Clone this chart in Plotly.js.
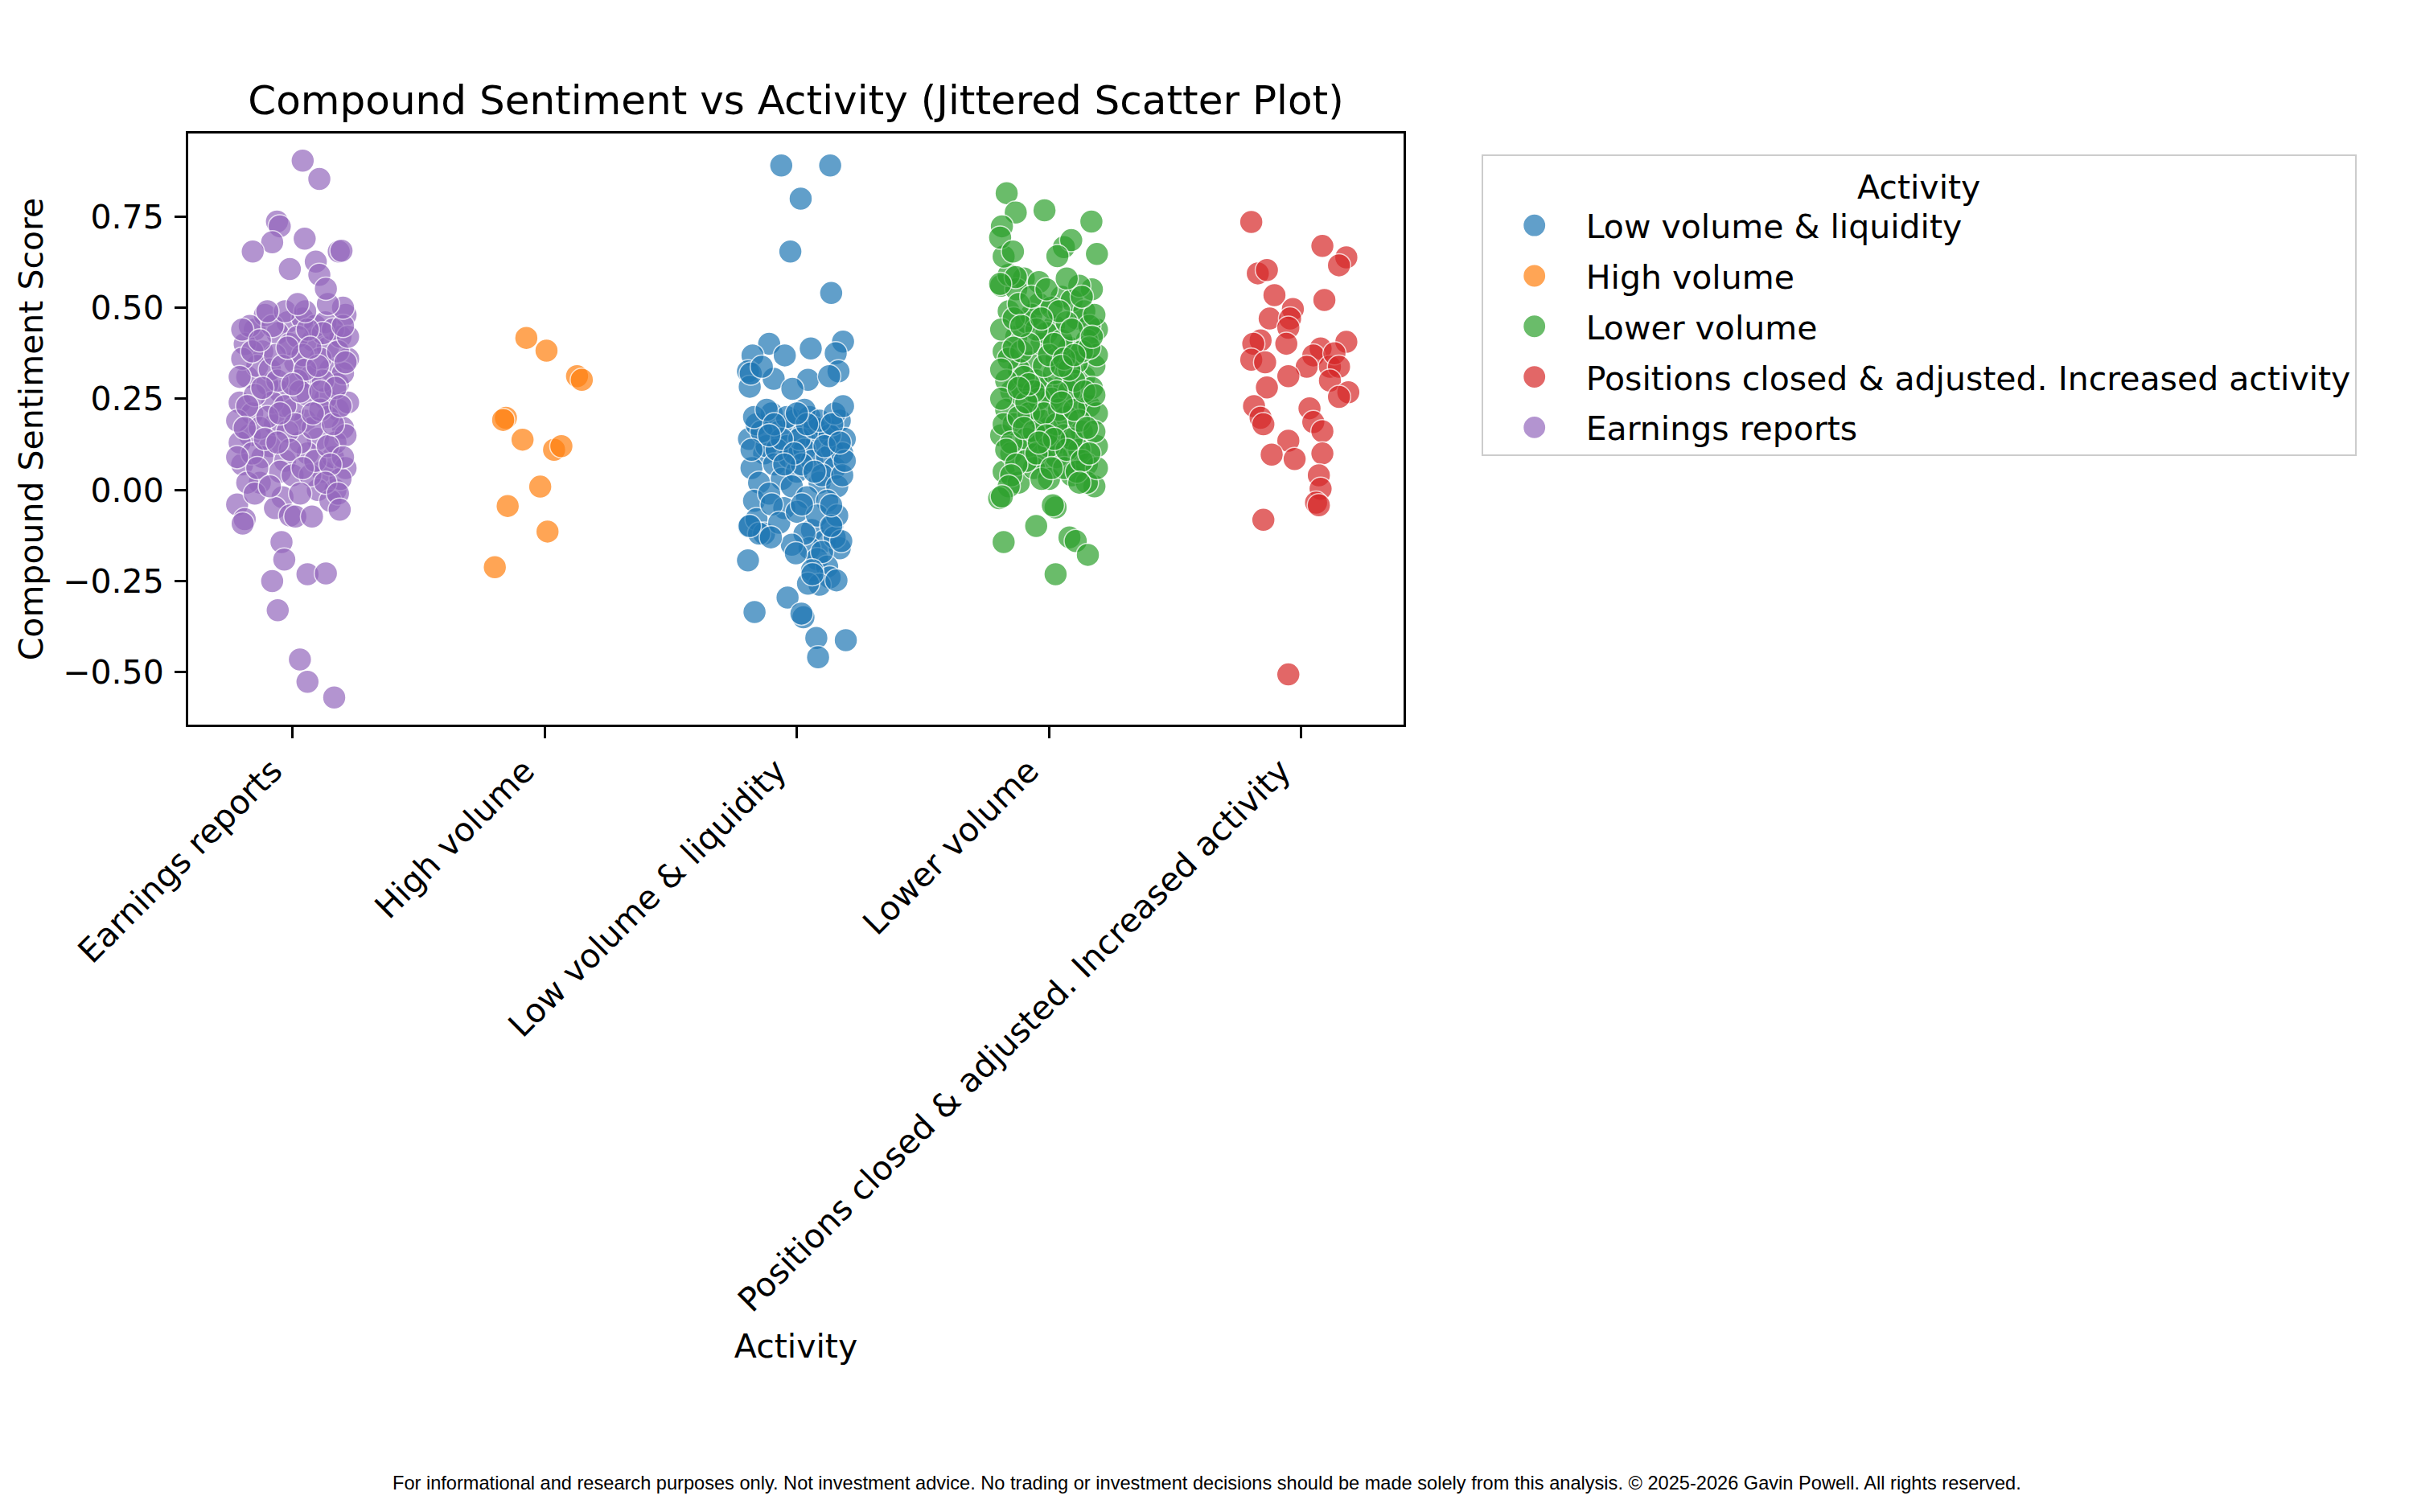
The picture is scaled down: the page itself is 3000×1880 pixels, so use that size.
<!DOCTYPE html>
<html>
<head>
<meta charset="utf-8">
<script src="https://cdn.plot.ly/plotly-3.0.1.min.js"></script>
<style>
	html, body { margin: 0; padding: 0; background: #fff; }
	#chart { width: 3000px; height: 1880px; }
</style>
</head>
<body>
<div id="chart"></div>
<script>
(function () {

	'use strict';

	// x-axis order (alphabetical, as on the picture)
	const categories = [
		'Earnings reports',
		'High volume',
		'Low volume & liquidity',
		'Lower volume',
		'Positions closed & adjusted. Increased activity'
	];

	// legend order
	const legendOrder = [
		'Low volume & liquidity',
		'High volume',
		'Lower volume',
		'Positions closed & adjusted. Increased activity',
		'Earnings reports'
	];

	const colors = {
		'Low volume & liquidity': '#1f77b4',
		'High volume': '#ff7f0e',
		'Lower volume': '#2ca02c',
		'Positions closed & adjusted. Increased activity': '#d62728',
		'Earnings reports': '#9467bd'
	};

	/*
	Sentiment scores and horizontal jitter
	*/
	const earningsScore = [
		0.24, 0.31, 0.44, 0.38, 0.12, 0.27, 0.46, 0.35, 0.19, 0.41,
		0.05, 0.33, 0.22, 0.48, 0.07, 0.15, 0.02, 0.29, 0.43, 0.08,
		0.22, 0.47, 0.31, 0.14, 0.39, 0.00, 0.17, 0.36, -0.04, 0.40,
		0.21, 0.48, 0.18, -0.02, 0.30, 0.10, 0.45, 0.25, 0.09, 0.42,
		0.13, 0.02, 0.34, 0.24, 0.40, 0.13, 0.36, 0.20, 0.29, 0.06,
		0.36, 0.26, 0.09, 0.33, 0.05, 0.16, 0.42, 0.26, 0.00, 0.46,
		0.13, 0.32, 0.19, 0.45, 0.17, 0.37, 0.23, 0.04, 0.37, 0.17,
		0.30, 0.44, 0.03, 0.24, -0.08, 0.10, 0.20, 0.30, 0.11, 0.27,
		0.04, 0.22, -0.03, 0.38, 0.15, 0.31, 0.06, 0.45, 0.34, 0.18,
		0.33, 0.08, 0.12, 0.28, 0.42, 0.23, 0.28, -0.05, 0.39, -0.01,
		0.21, 0.43, 0.18, 0.09, 0.44, -0.01, 0.14, 0.21, 0.29, 0.44,
		0.34, 0.07, 0.23, 0.38, 0.01, 0.49, 0.06, 0.02, 0.35, 0.13,
		0.41, 0.39, -0.01, 0.17, 0.27, -0.07, 0.45, 0.09, 0.49, 0.49,
		0.51, 0.50, 0.51,
		0.903, 0.853, 0.736, 0.723, 0.689, 0.679, 0.654, 0.654, 0.656, 0.606,
		0.626, 0.590, 0.552, -0.143, -0.191, -0.250, -0.231, -0.229, -0.330, -0.465,
		-0.526, -0.569, -0.092, -0.073, -0.073, -0.054
	];
	const earningsJitter = [
		-0.21, -0.18, -0.15, -0.12, -0.09, -0.05, -0.02, 0.01, 0.05, 0.08,
		0.12, 0.15, 0.18, 0.21, -0.20, -0.17, -0.13, -0.10, -0.06, -0.03,
		0.00, 0.04, 0.07, 0.10, 0.14, 0.17, 0.20, 0.22, -0.22, -0.19,
		-0.16, -0.11, -0.07, -0.04, 0.02, 0.06, 0.09, 0.13, 0.16, 0.19,
		-0.21, -0.18, -0.14, -0.08, -0.01, 0.03, 0.11, 0.14, 0.18, 0.21,
		-0.20, -0.15, -0.12, -0.09, -0.05, -0.02, 0.02, 0.06, 0.10, 0.13,
		0.17, 0.20, -0.22, -0.17, -0.13, -0.07, -0.03, 0.00, 0.04, 0.08,
		0.12, 0.16, 0.19, 0.22, -0.19, -0.16, -0.10, -0.06, -0.01, 0.03,
		0.07, 0.11, 0.15, 0.18, 0.21, -0.21, -0.14, -0.08, -0.04, 0.01,
		0.05, 0.09, 0.14, 0.17, 0.22, -0.18, -0.12, -0.07, -0.02, 0.03,
		0.08, 0.12, 0.16, 0.20, -0.20, -0.15, -0.11, -0.05, 0.00, 0.06,
		0.10, 0.15, 0.19, -0.16, -0.09, -0.03, 0.04, 0.13, 0.21, -0.06,
		-0.13, 0.07, 0.18, -0.19, 0.11, -0.01, 0.20, -0.22, 0.05, -0.10,
		0.02, 0.20, 0.14,
		0.040, 0.106, -0.062, -0.051, 0.048, -0.081, -0.158, 0.183, 0.194, -0.011,
		0.092, 0.106, 0.132, -0.044, -0.033, -0.081, 0.059, 0.132, -0.059, 0.029,
		0.059, 0.165, -0.198, 0.011, 0.077, 0.187
	];

	const highScore = [
		0.417, 0.382, 0.312, 0.302, 0.198, 0.192, 0.138, 0.110, 0.120, 0.009,
		-0.044, -0.114, -0.212
	];
	const highJitter = [
		-0.073, 0.007, 0.128, 0.147, -0.154, -0.165, -0.088, 0.037, 0.066, -0.018,
		-0.147, 0.011, -0.198
	];

	const lowLiqScore = [
		0.14, 0.18, 0.10, 0.21, 0.16, 0.12, 0.19, 0.15, 0.20, 0.13,
		0.17, 0.11, 0.19, 0.14, 0.06, 0.02, 0.12, 0.07, 0.03, 0.09,
		0.05, 0.11, 0.08, 0.02, 0.09, 0.06, 0.10, -0.03, 0.16, -0.01,
		0.11, -0.05, 0.01, 0.14, -0.02, 0.17, 0.04, 0.15, 0.01, -0.10,
		-0.08, -0.12, -0.04, -0.09, 0.20, -0.06, 0.22, -0.11, 0.19, -0.03,
		0.21, 0.04, 0.20, 0.22, 0.14, 0.07, -0.07, -0.14, -0.10, -0.16,
		-0.16, -0.19, -0.21, -0.13, -0.12, -0.17, -0.24, -0.22, -0.26, -0.07,
		-0.15, -0.12, 0.08, 0.18, 0.18, 0.10, 0.12, 0.11, 0.05, 0.18,
		0.07, -0.04, 0.15, 0.13, 0.21,
		0.890, 0.890, 0.799, 0.654, 0.540, 0.407, 0.401, 0.369, 0.388, 0.375,
		0.369, 0.325, 0.325, 0.305, 0.302, 0.283, 0.312, 0.319, 0.338, 0.277,
		0.230, -0.193, -0.335, -0.295, -0.349, -0.339, -0.406, -0.412, -0.459, -0.248,
		-0.257, -0.231, -0.174, -0.140, -0.099, -0.099, -0.130, -0.042
	];
	const lowLiqJitter = [
		-0.19, -0.16, -0.13, -0.10, -0.07, -0.04, -0.01, 0.02, 0.05, 0.08,
		0.11, 0.14, 0.17, 0.19, -0.18, -0.15, -0.12, -0.09, -0.06, -0.03,
		0.00, 0.03, 0.06, 0.09, 0.12, 0.15, 0.18, -0.17, -0.14, -0.11,
		-0.08, -0.05, -0.02, 0.01, 0.04, 0.07, 0.10, 0.13, 0.16, -0.19,
		-0.16, -0.13, -0.10, -0.07, -0.04, 0.00, 0.03, 0.06, 0.09, 0.12,
		0.15, 0.18, -0.17, -0.12, -0.06, 0.02, 0.08, 0.11, 0.14, 0.17,
		0.05, 0.08, 0.12, 0.15, 0.03, 0.10, 0.13, 0.06, 0.09, 0.16,
		-0.02, -0.15, 0.19, -0.09, 0.04, -0.01, 0.11, -0.18, 0.07, 0.14,
		-0.05, 0.02, -0.11, 0.17, 0.00,
		-0.062, 0.132, 0.015, -0.026, 0.136, 0.183, -0.110, -0.176, 0.055, 0.154,
		-0.048, -0.194, 0.165, -0.092, 0.044, -0.187, 0.128, -0.183, -0.139, -0.018,
		0.183, -0.194, -0.168, -0.037, 0.026, 0.018, 0.077, 0.194, 0.084, 0.157,
		0.044, 0.062, -0.004, 0.176, 0.136, -0.187, -0.103, 0.136
	];

	const lowerScore = [
		0.56, 0.49, 0.42, 0.58, 0.35, 0.51, 0.28, 0.45, 0.53, 0.39,
		0.47, 0.31, 0.55, 0.44, 0.38, 0.27, 0.33, 0.46, 0.22, 0.40,
		0.17, 0.36, 0.29, 0.52, 0.24, 0.41, 0.34, 0.15, 0.22, 0.18,
		0.26, 0.12, 0.30, 0.08, 0.25, 0.13, 0.20, 0.10, 0.16, 0.23,
		0.12, 0.05, 0.10, 0.02, 0.14, 0.06, 0.19, 0.03, 0.09, 0.15,
		0.04, 0.11, 0.07, 0.01, 0.44, 0.36, 0.55, 0.31, 0.48, 0.25,
		0.43, 0.32, 0.41, 0.27, 0.35, 0.49, 0.28, 0.37, 0.30, 0.47,
		0.38, 0.21, 0.44, 0.34, 0.50, 0.22, 0.46, 0.30, 0.38, 0.45,
		0.21, 0.18, 0.13, 0.20, 0.08, 0.16, 0.03, 0.12, 0.18, 0.06,
		0.14, 0.19, 0.02, 0.16, 0.59, 0.51, 0.40, 0.57, 0.37, 0.49,
		0.33, 0.56, 0.39, 0.25, 0.39, 0.17, 0.27, 0.21, 0.40, 0.36,
		0.22, 0.27, 0.48, 0.11, 0.07, 0.24, 0.10, 0.15, 0.27, 0.11,
		0.05, 0.17, 0.06, 0.64, 0.45, 0.53, 0.47, 0.06, 0.34, 0.44,
		0.08, 0.42, 0.04, 0.29, 0.14, 0.37, 0.10, 0.28, 0.24, 0.13,
		0.53, 0.33, 0.26, 0.55, 0.58, 0.01, 0.02,
		0.814, 0.767, 0.736, 0.761, 0.723, 0.692, 0.654, 0.647, 0.666, 0.685,
		0.641, 0.584, 0.565, -0.023, -0.018, -0.048, -0.042, -0.099, -0.143, -0.130,
		-0.140, -0.178, -0.231
	];
	const lowerJitter = [
		-0.19, -0.16, -0.13, -0.10, -0.07, -0.04, -0.01, 0.02, 0.05, 0.08,
		0.11, 0.14, 0.17, 0.19, -0.18, -0.15, -0.12, -0.09, -0.06, -0.03,
		0.00, 0.03, 0.06, 0.09, 0.12, 0.15, 0.18, -0.19, -0.17, -0.14,
		-0.11, -0.08, -0.05, -0.02, 0.01, 0.04, 0.07, 0.10, 0.13, 0.16,
		0.19, -0.18, -0.15, -0.12, -0.09, -0.06, -0.03, 0.00, 0.03, 0.06,
		0.09, 0.12, 0.15, 0.18, -0.19, -0.16, -0.13, -0.10, -0.07, -0.04,
		-0.01, 0.02, 0.05, 0.08, 0.11, 0.14, 0.17, 0.19, -0.17, -0.14,
		-0.11, -0.08, -0.05, -0.02, 0.01, 0.04, 0.07, 0.10, 0.13, 0.16,
		0.19, -0.18, -0.15, -0.12, -0.09, -0.06, -0.03, 0.00, 0.03, 0.06,
		0.09, 0.12, 0.15, 0.18, -0.16, -0.12, -0.08, -0.04, 0.00, 0.04,
		0.08, 0.12, 0.16, -0.19, -0.14, -0.10, -0.06, -0.02, 0.02, 0.06,
		0.10, 0.14, 0.18, -0.17, -0.13, -0.09, -0.05, -0.01, 0.03, 0.07,
		0.11, 0.15, 0.19, -0.18, -0.11, -0.07, -0.03, 0.01, 0.05, 0.09,
		0.13, 0.17, -0.15, -0.08, 0.02, 0.10, 0.16, -0.12, 0.05, -0.04,
		0.13, -0.19, 0.18, -0.01, 0.07, -0.16, 0.12,
		-0.168, -0.018, 0.168, -0.132, -0.187, -0.194, -0.143, 0.190, 0.059, 0.088,
		0.033, -0.132, -0.194, -0.198, -0.187, 0.026, 0.015, -0.051, -0.180, 0.081,
		0.106, 0.154, 0.026
	];

	const positionsScore = [
		0.735, 0.669, 0.638, 0.616, 0.594, 0.603, 0.534, 0.521, 0.496, 0.470,
		0.470, 0.445, 0.410, 0.401, 0.401, 0.406, 0.388, 0.369, 0.357, 0.350,
		0.338, 0.338, 0.375, 0.338, 0.312, 0.300, 0.281, 0.268, 0.255, 0.224,
		0.230, 0.198, 0.180, 0.186, 0.161, 0.135, 0.097, 0.085, 0.100, 0.040,
		0.003, -0.035, -0.042, -0.082, -0.506
	];
	const positionsJitter = [
		-0.198, 0.084, 0.179, 0.150, -0.172, -0.136, -0.106, 0.092, -0.033, -0.125,
		-0.044, -0.051, -0.161, -0.190, -0.059, 0.179, 0.077, 0.048, -0.198, -0.143,
		0.022, 0.114, 0.132, 0.150, -0.051, 0.114, -0.136, 0.187, 0.150, 0.033,
		-0.187, -0.161, -0.150, 0.048, 0.084, -0.051, -0.117, -0.026, 0.084, 0.070,
		0.077, 0.059, 0.070, -0.150, -0.051
	];

	const seriesScore = {
		'Earnings reports': earningsScore,
		'High volume': highScore,
		'Low volume & liquidity': lowLiqScore,
		'Lower volume': lowerScore,
		'Positions closed & adjusted. Increased activity': positionsScore
	};
	const seriesJitter = {
		'Earnings reports': earningsJitter,
		'High volume': highJitter,
		'Low volume & liquidity': lowLiqJitter,
		'Lower volume': lowerJitter,
		'Positions closed & adjusted. Increased activity': positionsJitter
	};

	const yTicks = [-0.5, -0.25, 0, 0.25, 0.5, 0.75];

	const FONT = 'DejaVu Sans, sans-serif';

	/**
	* one scatter trace per activity, x = category index + jitter
	*/
	const data = legendOrder.map( name => {
		const idx = categories.indexOf( name );
		return {
			type: 'scatter',
			mode: 'markers',
			name,
			legendgroup: name,
			x: seriesJitter[name].map( j => idx + j ),
			y: seriesScore[name],
			marker: {
				size: 29,
				color: colors[name],
				opacity: 0.7,
				line: { color: '#ffffff', width: 1.5 }
			},
			hovertemplate: name + '<br>%{y:.3f}<extra></extra>'
		};
	});

	const axisStyle = {
		showline: true,
		mirror: true,
		linecolor: '#000',
		linewidth: 3,
		ticks: 'outside',
		ticklen: 14,
		tickwidth: 3,
		tickcolor: '#000',
		showgrid: false,
		zeroline: false,
		tickfont: { family: FONT, size: 41, color: '#000' }
	};

	const layout = {
		width: 3000,
		height: 1880,
		paper_bgcolor: '#fff',
		plot_bgcolor: '#fff',
		margin: { l: 234, r: 1255, t: 166, b: 979, autoexpand: false },
		font: { family: FONT, color: '#000' },
		title: {
			text: 'Compound Sentiment vs Activity (Jittered Scatter Plot)',
			font: { family: FONT, size: 50, color: '#000' },
			xref: 'paper', x: 0.5, xanchor: 'center',
			yref: 'container', y: 1 - 124 / 1880, yanchor: 'middle'
		},
		xaxis: Object.assign({}, axisStyle, {
			range: [-0.414, 4.406],
			tickmode: 'array',
			tickvals: categories.map( (c, i) => i ),
			ticktext: categories,
			tickangle: -45,
			ticklabelshift: -25,
			automargin: false,
			title: {
				text: 'Activity',
				font: { family: FONT, size: 41, color: '#000' },
				standoff: 20
			}
		}),
		yaxis: Object.assign({}, axisStyle, {
			range: [-0.6436, 0.9775],
			tickmode: 'array',
			tickvals: yTicks,
			ticktext: yTicks.map( v => ( v < 0 ? '\u2212' : '' ) + Math.abs( v ).toFixed( 2 ) ),
			ticklabelstandoff: 5,
			automargin: false,
			title: {
				text: 'Compound Sentiment Score',
				font: { family: FONT, size: 41, color: '#000' },
				standoff: 12
			}
		}),
		showlegend: true,
		legend: {
			x: 1.064, xanchor: 'left',
			y: 0.965, yanchor: 'top',
			bgcolor: '#fff',
			bordercolor: '#cccccc',
			borderwidth: 2,
			font: { family: FONT, size: 41, color: '#000' },
			title: {
				text: 'Activity',
				side: 'top center',
				font: { family: FONT, size: 41, color: '#000' }
			},
			tracegroupgap: 6.5,
			itemwidth: 118,
			itemsizing: 'trace'
		},
		annotations: [{
			text: 'For informational and research purposes only. Not investment advice. No trading or investment decisions should be made solely from this analysis. \u00a9 2025-2026 Gavin Powell. All rights reserved.',
			xref: 'paper', yref: 'paper',
			x: ( 1500 - 234 ) / 1511, y: ( 901 - 1844 ) / 735,
			xanchor: 'center', yanchor: 'middle',
			showarrow: false,
			font: { family: 'Liberation Sans, Arial, sans-serif', size: 23.6, color: '#000' }
		}],
		hovermode: 'closest'
	};

	Plotly.newPlot( 'chart', data, layout, { displayModeBar: false, responsive: false } )
		.then( gd => {
			// legend glyphs are capped at 16px by Plotly; bring them up to the plotted marker size
			gd.querySelectorAll( '.legend .legendpoints path.scatterpts' ).forEach( p => {
				const t = p.getAttribute( 'transform' ) || '';
				p.setAttribute( 'transform', t + ' scale(1.85)' );
			});
		});

})();
</script>
</body>
</html>
